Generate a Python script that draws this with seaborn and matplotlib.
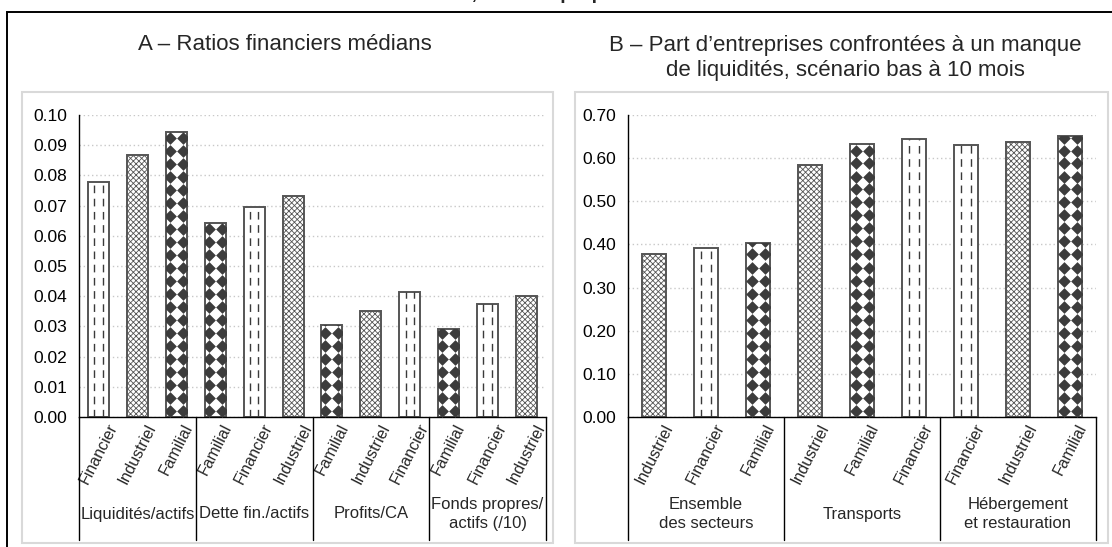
import matplotlib
matplotlib.use('Agg')
import matplotlib.pyplot as plt
import matplotlib.transforms as mtransforms
from matplotlib.patches import Rectangle
import seaborn as sns
import pandas as pd
import numpy as np

# ---- data, panel A (ratios financiers médians)
a_groups = ['Liquidités/actifs', 'Dette fin./actifs', 'Profits/CA', 'Fonds propres/\nactifs (/10)']
a_types = [['Financier', 'Industriel', 'Familial'],
           ['Familial', 'Financier', 'Industriel'],
           ['Familial', 'Industriel', 'Financier'],
           ['Familial', 'Financier', 'Industriel']]
a_values = [[0.0778, 0.0867, 0.0944],
            [0.0643, 0.0694, 0.0731],
            [0.0304, 0.0351, 0.0415],
            [0.0292, 0.0374, 0.0402]]

# ---- data, panel B (part d'entreprises en manque de liquidités)
b_groups = ['Ensemble\ndes secteurs', 'Transports', 'Hébergement\net restauration']
b_types = [['Industriel', 'Financier', 'Familial'],
           ['Industriel', 'Familial', 'Financier'],
           ['Financier', 'Industriel', 'Familial']]
b_values = [[0.377, 0.392, 0.403],
            [0.583, 0.633, 0.645],
            [0.630, 0.637, 0.651]]

sns.set_style('white')
plt.rcParams['font.family'] = ['Liberation Sans', 'DejaVu Sans']
plt.rcParams['hatch.linewidth'] = 0.6

W, H = 1112, 547
fig = plt.figure(figsize=(W / 100, H / 100), dpi=100)

def fx(px):
    return px / W

def fy(py):
    return 1 - py / H

# outer black frame and the two light panels
fig.patches.append(Rectangle((fx(7), -0.1), 1.2, fy(12) + 0.1, transform=fig.transFigure,
                             fill=False, edgecolor='black', lw=1.4))
for x0, x1 in [(22, 553), (575, 1108)]:
    fig.patches.append(Rectangle((fx(x0), fy(543)), fx(x1 - x0), (543 - 92) / H,
                                 transform=fig.transFigure, fill=False,
                                 edgecolor='#d9d9d9', lw=1.5))

# main title, mostly cut off at the top of the picture
fig.text(fx(565), fy(-1), 'En ratio, selon le propriétaire ultime', ha='center',
         va='baseline', fontsize=14, fontweight='bold')

fig.text(fx(285), fy(44), 'A – Ratios financiers médians', ha='center', va='center', fontsize=16)
fig.text(fx(845), fy(58), 'B – Part d’entreprises confrontées à un manque\nde liquidités, scénario bas à 10 mois',
         ha='center', va='center', fontsize=16, linespacing=1.3)

ax_a = fig.add_axes([fx(79), fy(417), fx(546 - 79), (417 - 115) / H])
ax_b = fig.add_axes([fx(628), fy(417), fx(1096 - 628), (417 - 115) / H])


def texture(ax, bar, kind):
    x0, w, h = bar.get_x(), bar.get_width(), bar.get_height()
    if h <= 0:
        return
    xl, yl = ax.get_xlim(), ax.get_ylim()
    ppx = ax.bbox.width / (xl[1] - xl[0])
    ppy = ax.bbox.height / (yl[1] - yl[0])
    if kind == 'Industriel':
        bar.set_hatch('xxxxxx')
    elif kind == 'Financier':
        for f in (0.3, 0.7):
            ln, = ax.plot([x0 + f * w] * 2, [0, h], color='#3a3a3a', lw=1.0,
                          ls=(0, (5.5, 4.0)), solid_capstyle='butt', zorder=3)
            ln.set_clip_path(bar)
    elif kind == 'Familial':
        # grid of dark diamonds, white round gaps between them
        sx, sy = 13.0 / ppx, 13.0 / ppy
        xc = x0 + w / 2
        xs, ys = [], []
        for k in (-1.5, -0.5, 0.5, 1.5):
            yy = np.arange(sy / 2, h + sy, sy)
            xs.extend([xc + k * sx] * len(yy))
            ys.extend(yy)
        sc = ax.scatter(xs, ys, marker='D', s=42, color='#3c3c3c', linewidths=0, zorder=3)
        sc.set_clip_path(bar)


def panel(ax, groups, types, values, ymax, step, width):
    labels = [t for g in types for t in g]
    vals = [v for g in values for v in g]
    df = pd.DataFrame({'pos': [str(i) for i in range(len(vals))], 'value': vals, 'type': labels})
    sns.barplot(data=df, x='pos', y='value', color='white', edgecolor='#555555',
                linewidth=1.4, width=width, saturation=1, ax=ax, zorder=2)
    n = len(vals)
    ax.set_xlim(-0.5, n - 0.5)
    ax.set_ylim(0, ymax)
    ticks = np.arange(0, ymax + step / 2, step)
    ax.set_yticks(ticks)
    ax.set_yticklabels([f'{t:.2f}' for t in ticks], fontsize=12.5)
    ax.set_xticks(range(n))
    ax.set_xticklabels(labels, rotation=63, ha='center', va='top', fontsize=11.5)
    ax.tick_params(axis='x', length=0, pad=3)
    ax.tick_params(axis='y', length=5, width=1, direction='out', pad=3.5, colors='black')
    ax.set_xlabel('')
    ax.set_ylabel('')
    ax.yaxis.grid(True, color='#c8c8c8', ls=(0, (1, 2)), lw=1)
    ax.set_axisbelow(True)
    sns.despine(ax=ax)
    for s in ('left', 'bottom'):
        ax.spines[s].set_color('black')
        ax.spines[s].set_linewidth(1)
    for bar, kind in zip(ax.patches, labels):
        texture(ax, bar, kind)
    trans = mtransforms.blended_transform_factory(ax.transData, ax.transAxes)
    low = -(540 - 417) / 302
    for b in np.arange(-0.5, n, 3):
        ax.plot([b, b], [0, low], color='black', lw=1, transform=trans, clip_on=False)
    for i, g in enumerate(groups):
        ax.text(3 * i + 1, -(514 - 417) / 302, g, transform=trans, ha='center', va='center',
                fontsize=12, linespacing=1.3)


panel(ax_a, a_groups, a_types, a_values, 0.10, 0.01, 0.54)
panel(ax_b, b_groups, b_types, b_values, 0.70, 0.10, 0.48)

fig.savefig('out.png', dpi=100)
